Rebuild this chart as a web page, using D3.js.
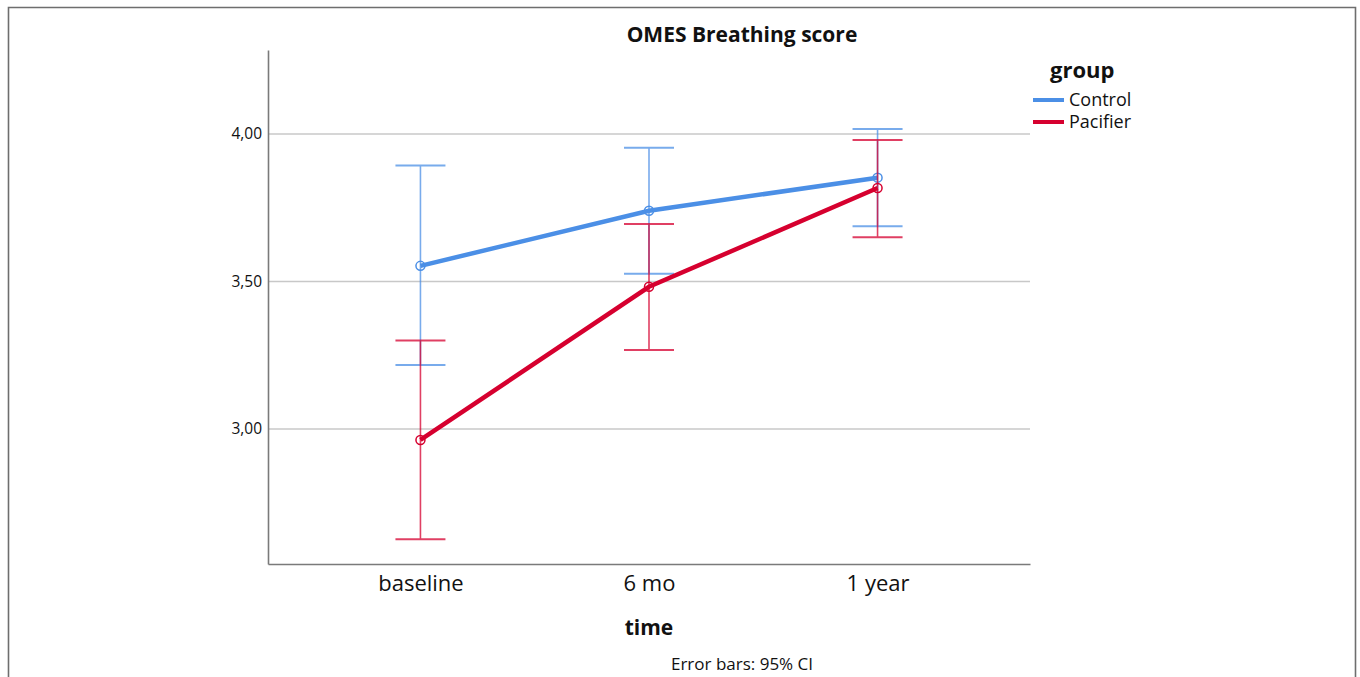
<!DOCTYPE html>
<html>
<head>
<meta charset="utf-8">
<script src="https://cdn.jsdelivr.net/npm/d3@7"></script>
<style>
  body { margin: 0; background: #fff; }
  text { font-family: "Open Sans", "DejaVu Sans", sans-serif; fill: #111; }
</style>
</head>
<body>
<div id="chart"></div>
<script>
// Data
// ==============================
var timePoints = ["baseline", "6 mo", "1 year"];
var groups = ["Control", "Pacifier"];
var controlMean = [3.553, 3.740, 3.852];
var controlLow = [3.217, 3.526, 3.687];
var controlHigh = [3.893, 3.953, 4.017];
var pacifierMean = [2.963, 3.482, 3.817];
var pacifierLow = [2.626, 3.268, 3.650];
var pacifierHigh = [3.300, 3.695, 3.980];
var yTicks = [3.0, 3.5, 4.0];

var svgWidth = 1360;
var svgHeight = 677;

var colors = { "Control": "#4b8fe6", "Pacifier": "#d6002f" };

var svg = d3.select("#chart")
  .append("svg")
  .attr("width", svgWidth)
  .attr("height", svgHeight);

// outer frame
svg.append("path")
  .attr("d", "M8.5,690 V7.5 H1355.5 V690")
  .attr("fill", "none")
  .attr("stroke", "#6e6e6e")
  .attr("stroke-width", 1.6);

// Scales
// ==============================
var plot = { left: 268, right: 1030, top: 50, bottom: 564 };

var xScale = d3.scalePoint()
  .domain(timePoints)
  .range([plot.left, plot.right])
  .padding(0.667);

var yScale = d3.scaleLinear()
  .domain([2.5424, 4.2847])
  .range([plot.bottom, plot.top]);

// gridlines
svg.append("g")
  .selectAll("line")
  .data(yTicks)
  .enter().append("line")
  .attr("x1", plot.left)
  .attr("x2", plot.right)
  .attr("y1", d => yScale(d))
  .attr("y2", d => yScale(d))
  .attr("stroke", "#c8c8c8")
  .attr("stroke-width", 1.6);

// axes
var yAxis = d3.axisLeft(yScale)
  .tickValues(yTicks)
  .tickSize(0)
  .tickPadding(6)
  .tickFormat(d => d3.format(".2f")(d).replace(".", ","));

var yAxisG = svg.append("g")
  .attr("transform", `translate(${plot.left}, 0)`)
  .call(yAxis);
yAxisG.select(".domain").attr("stroke", "#7a7a7a").attr("stroke-width", 1.6);
yAxisG.selectAll("text")
  .attr("font-size", 15.5)
  .attr("font-family", "'Open Sans', sans-serif")
  .attr("fill", "#222");

var xAxis = d3.axisBottom(xScale)
  .tickSize(0)
  .tickPadding(11);

var xAxisG = svg.append("g")
  .attr("transform", `translate(0, ${plot.bottom})`)
  .call(xAxis);
xAxisG.select(".domain").attr("stroke", "#7a7a7a").attr("stroke-width", 1.6);
xAxisG.selectAll("text")
  .attr("font-size", 22)
  .attr("font-family", "'Open Sans', sans-serif")
  .attr("fill", "#111");

// Series
// ==============================
var series = [
  { name: "Control", mean: controlMean, low: controlLow, high: controlHigh },
  { name: "Pacifier", mean: pacifierMean, low: pacifierLow, high: pacifierHigh }
];

var line = d3.line()
  .x(d => xScale(d.t))
  .y(d => yScale(d.v));

var capHalf = 25;

series.forEach(function(s) {
  var pts = timePoints.map((t, i) => ({ t: t, v: s.mean[i], lo: s.low[i], hi: s.high[i] }));
  var g = svg.append("g");
  var c = colors[s.name];

  // error bars
  var eb = g.selectAll(".eb")
    .data(pts)
    .enter().append("g")
    .attr("opacity", 0.75);
  eb.append("line")
    .attr("x1", d => xScale(d.t))
    .attr("x2", d => xScale(d.t))
    .attr("y1", d => yScale(d.lo))
    .attr("y2", d => yScale(d.hi))
    .attr("stroke", c)
    .attr("stroke-width", 1.6);
  eb.append("line")
    .attr("x1", d => xScale(d.t) - capHalf)
    .attr("x2", d => xScale(d.t) + capHalf)
    .attr("y1", d => yScale(d.hi))
    .attr("y2", d => yScale(d.hi))
    .attr("stroke", c)
    .attr("stroke-width", 2);
  eb.append("line")
    .attr("x1", d => xScale(d.t) - capHalf)
    .attr("x2", d => xScale(d.t) + capHalf)
    .attr("y1", d => yScale(d.lo))
    .attr("y2", d => yScale(d.lo))
    .attr("stroke", c)
    .attr("stroke-width", 2);

  // mean line
  g.append("path")
    .datum(pts)
    .attr("d", line)
    .attr("fill", "none")
    .attr("stroke", c)
    .attr("stroke-width", 4.5);

  // markers
  g.selectAll("circle")
    .data(pts)
    .enter().append("circle")
    .attr("cx", d => xScale(d.t))
    .attr("cy", d => yScale(d.v))
    .attr("r", 4.5)
    .attr("fill", "none")
    .attr("stroke", c)
    .attr("stroke-width", 1.5);
});

// Title and labels
// ==============================
svg.append("text")
  .attr("x", 742)
  .attr("y", 42)
  .attr("text-anchor", "middle")
  .attr("font-size", 21)
  .attr("font-weight", "bold")
  .text("OMES Breathing score");

svg.append("text")
  .attr("x", 649)
  .attr("y", 635)
  .attr("text-anchor", "middle")
  .attr("font-size", 21)
  .attr("font-weight", "bold")
  .text("time");

svg.append("text")
  .attr("x", 742)
  .attr("y", 670)
  .attr("text-anchor", "middle")
  .attr("font-size", 17)
  .attr("font-family", "'Open Sans', sans-serif")
  .text("Error bars: 95% CI");

// Legend
// ==============================
svg.append("text")
  .attr("x", 1050)
  .attr("y", 78)
  .attr("font-size", 22)
  .attr("font-weight", "bold")
  .text("group");

var legend = svg.append("g")
  .selectAll("g")
  .data(groups)
  .enter().append("g")
  .attr("transform", (d, i) => `translate(1033, ${100 + i * 22})`);

legend.append("line")
  .attr("x1", 0)
  .attr("x2", 31)
  .attr("stroke", d => colors[d])
  .attr("stroke-width", 4);

legend.append("text")
  .attr("x", 36)
  .attr("y", 6)
  .attr("font-size", 18)
  .text(d => d);
</script>
</body>
</html>
